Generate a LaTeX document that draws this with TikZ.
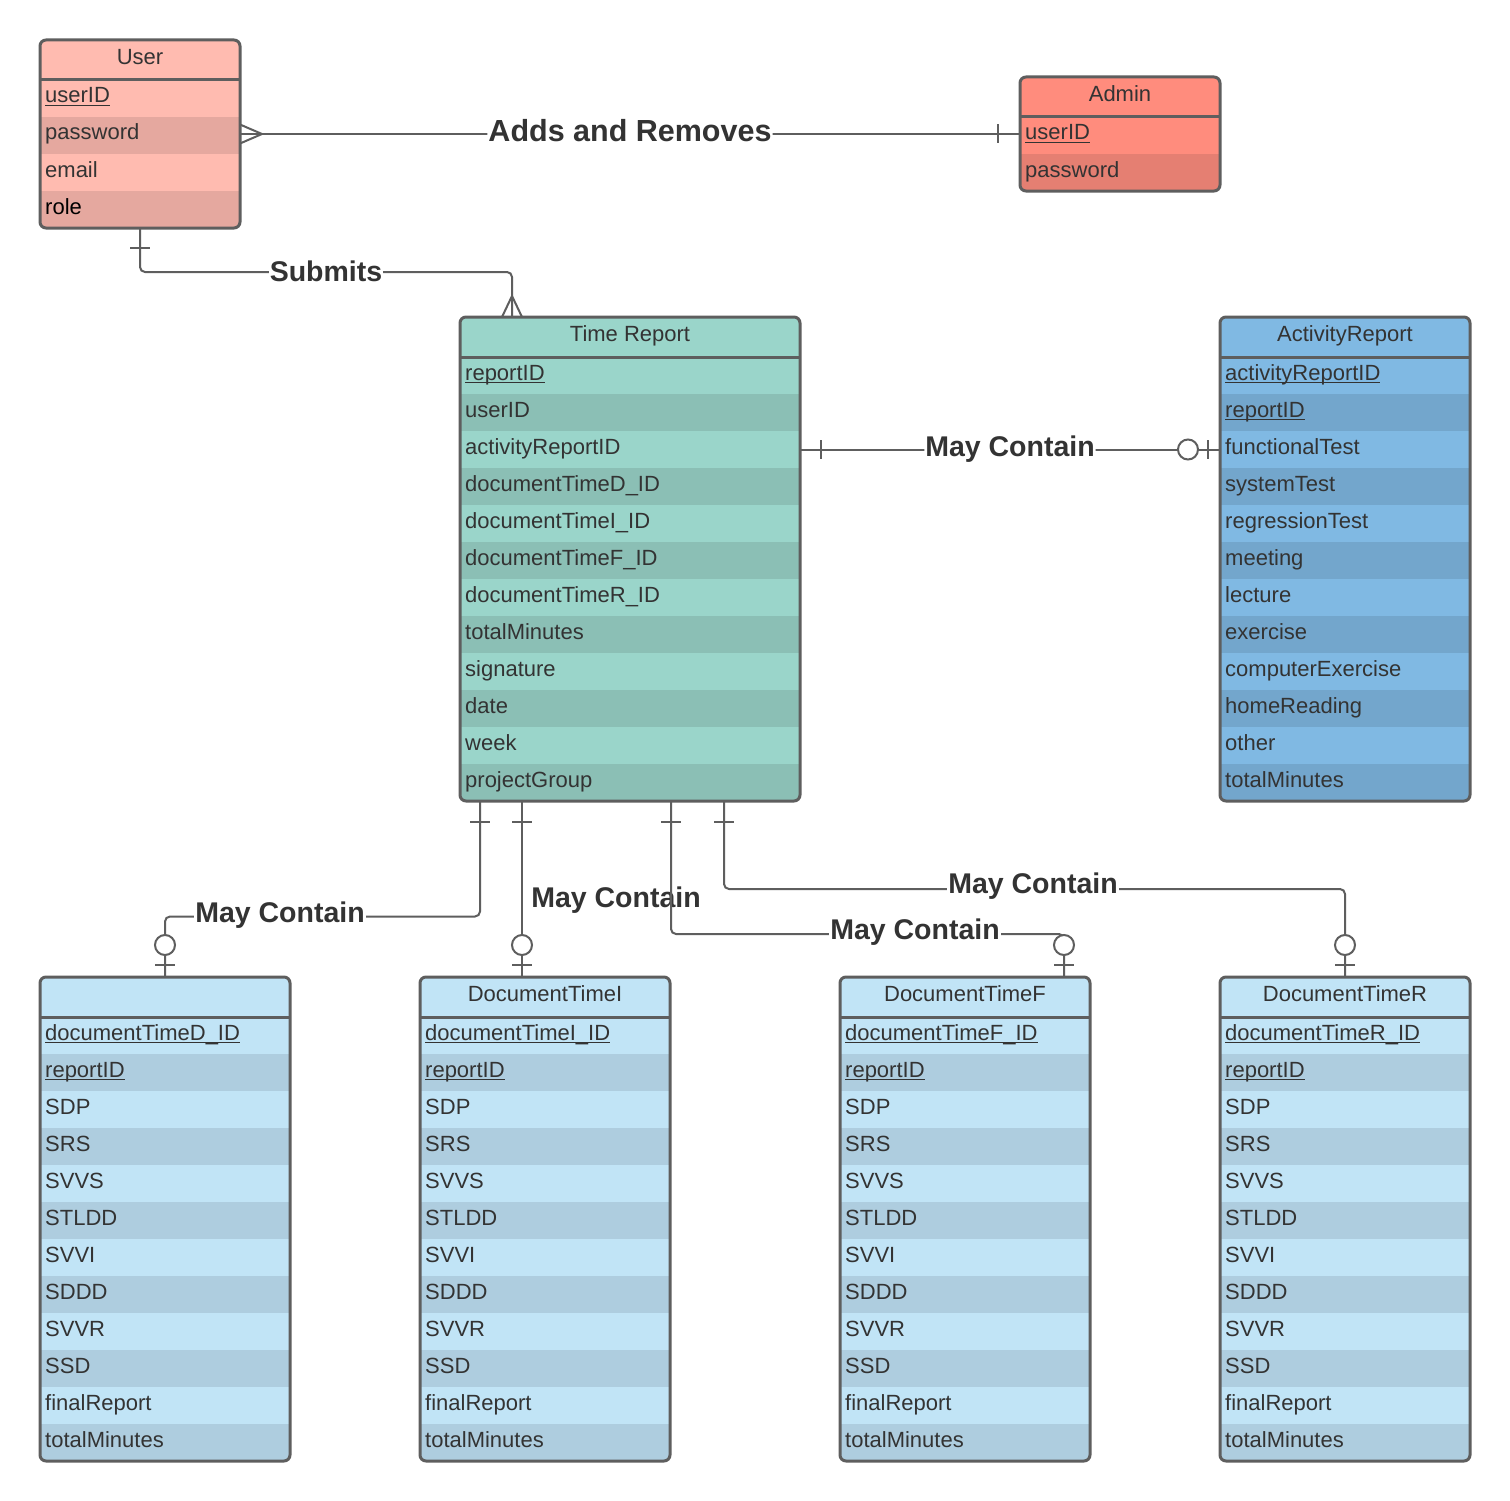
\documentclass[tikz,border=0pt]{standalone}
\usepackage{fontspec}
\setmainfont{Liberation Sans}
\usetikzlibrary{calc}

\definecolor{edge}{HTML}{5E5E5E}
\definecolor{ink}{HTML}{333333}
\definecolor{userlt}{HTML}{FFBBB0}
\definecolor{userdk}{HTML}{E5A89F}
\definecolor{adminlt}{HTML}{FF8C7D}
\definecolor{admindk}{HTML}{E57F72}
\definecolor{trlt}{HTML}{9AD5CA}
\definecolor{trdk}{HTML}{8BBFB5}
\definecolor{arlt}{HTML}{80B9E3}
\definecolor{ardk}{HTML}{73A6CC}
\definecolor{doclt}{HTML}{C1E4F6}
\definecolor{docdk}{HTML}{AECDDF}

% key field: text with a heavier underline just below the baseline
\newcommand\keyf[1]{\setbox0\hbox{#1}\rlap{\rule[-3.4pt]{\wd0}{1.8pt}}\box0}

% entity table: #1 name, #2 left, #3 top, #4 width, #5 title,
% #6 light fill, #7 dark fill, #8 number of rows, #9 rows
\newcommand\ertab[9]{%
  \pgfmathsetmacro\ertabH{40+37*#8}
  \begin{scope}
    \clip[rounded corners=6] (#2,#3) rectangle ++(#4,\ertabH);
    \fill[#6] (#2,#3) rectangle ++(#4,\ertabH);
    \foreach \fld [count=\idx] in {#9} {
      \ifodd\idx\else
        \fill[#7] (#2,{#3+40+37*(\idx-1)}) rectangle ++(#4,37);
      \fi
      \node[rowtext] at (#2+5,{#3+40+37*(\idx-1)+23}) {\fld};
    }
  \end{scope}
  \node[tabbox, minimum width=#4, minimum height=\ertabH, anchor=north west] (#1) at (#2,#3) {};
  \draw[tabline] (#2,#3+40) -- ++(#4,0);
  \node[headtext] at (#2+#4/2,#3+24.5) {#5};
}

\begin{document}
\begin{tikzpicture}[x=1pt,y=-1pt,
  tabbox/.style={draw=edge, line width=3pt, rounded corners=6pt, inner sep=0pt, outer sep=0pt},
  tabline/.style={draw=edge, line width=3pt},
  rowtext/.style={anchor=base west, inner sep=0pt, text=ink, font=\fontsize{22}{26}\selectfont},
  headtext/.style={anchor=base, inner sep=0pt, text=ink, font=\fontsize{22}{26}\selectfont},
  conn/.style={draw=edge, line width=2pt, rounded corners=5pt},
  tick/.style={draw=edge, line width=2pt},
  ring/.style={draw=edge, line width=2pt, fill=white},
  lab/.style={text=ink, fill=white, inner sep=1pt, font=\bfseries\fontsize{28.5}{34}\selectfont},
  labfree/.style={text=ink, inner sep=1pt, font=\bfseries\fontsize{28.5}{34}\selectfont}]

\useasboundingbox (0,0) rectangle (1510,1501);
\fill[white] (0,0) rectangle (1510,1501);

% ---------------- connectors (drawn first, tables on top) ----------------
\coordinate (uE) at (240,134);
\coordinate (aW) at (1020,134);
\coordinate (uS) at (140,228);
\coordinate (trTop) at (512,317);

\coordinate (trR) at (800,449.5);
\coordinate (arL) at (1220,449.5);

\coordinate (trB1) at (480,801);
\coordinate (trB2) at (522,801);
\coordinate (trB3) at (671,801);
\coordinate (trB4) at (724,801);
\coordinate (dD) at (165,977);
\coordinate (dI) at (522,977);
\coordinate (dF) at (1064,977);
\coordinate (dR) at (1345,977);

% User -- Admin
\draw[conn] (uE) -- node[lab, yshift=3pt, font=\bfseries\fontsize{30.5}{36}\selectfont] {Adds and Removes} (aW);
\draw[tick] ($(uE)+(0,-9.5)$) -- ($(uE)+(22,0)$) -- ($(uE)+(0,9.5)$);
\draw[tick] ($(aW)+(-22,-9.5)$) -- ++(0,19);

% User -- Time Report
\draw[conn] (uS) -- ($(uS)+(0,44)$) -| (trTop);
\node[lab] at (326,271) {Submits};
\draw[tick] ($(uS)+(-10,20)$) -- ++(20,0);
\draw[tick] ($(trTop)+(-10,0)$) -- ($(trTop)+(0,-21)$) -- ($(trTop)+(10,0)$);

% Time Report -- ActivityReport
\draw[conn] (trR) -- node[lab] {May Contain} (arL);
\draw[tick] ($(trR)+(21,-9.5)$) -- ++(0,19);
\draw[tick] ($(arL)+(-12,-9.5)$) -- ++(0,19);
\draw[ring] ($(arL)+(-32,0)$) circle[radius=10];

% Time Report -- document tables
\draw[conn] (trB1) -- ($(trB1)+(0,115.5)$) -| (dD);
\node[lab] at (280,915) {May Contain};
\draw[conn] (trB2) -- (dI);
\node[labfree] at (616,900) {May Contain};
\draw[conn] (trB3) -- ($(trB3)+(0,133)$) -| (dF);
\node[lab] at (915,932.5) {May Contain};
\draw[conn] (trB4) -- ($(trB4)+(0,88)$) -| (dR);
\node[lab] at (1033,886.5) {May Contain};

\foreach \p in {trB1,trB2,trB3,trB4}
  \draw[tick] ($(\p)+(-10,20.5)$) -- ++(20,0);
\foreach \p in {dD,dI,dF,dR} {
  \draw[tick] ($(\p)+(-10,-12.5)$) -- ++(20,0);
  \draw[ring] ($(\p)+(0,-32)$) circle[radius=10];
}

% ---------------- tables ----------------
\ertab{user}{40}{40}{200}{User}{userlt}{userdk}{4}%
  {\keyf{userID},password,email,{\color{black}role}}

\ertab{admin}{1020}{77}{200}{Admin}{adminlt}{admindk}{2}%
  {\keyf{userID},password}

\ertab{tr}{460}{317}{340}{Time Report}{trlt}{trdk}{12}%
  {\keyf{reportID},userID,activityReportID,documentTimeD\_ID,documentTimeI\_ID,documentTimeF\_ID,documentTimeR\_ID,totalMinutes,signature,date,week,projectGroup}

\ertab{ar}{1220}{317}{250}{ActivityReport}{arlt}{ardk}{12}%
  {\keyf{activityReportID},\keyf{reportID},functionalTest,systemTest,regressionTest,meeting,lecture,exercise,computerExercise,homeReading,other,totalMinutes}

\ertab{docD}{40}{977}{250}{}{doclt}{docdk}{12}%
  {\keyf{documentTimeD\_ID},\keyf{reportID},SDP,SRS,SVVS,STLDD,SVVI,SDDD,SVVR,SSD,finalReport,totalMinutes}

\ertab{docI}{420}{977}{250}{DocumentTimeI}{doclt}{docdk}{12}%
  {\keyf{documentTimeI\_ID},\keyf{reportID},SDP,SRS,SVVS,STLDD,SVVI,SDDD,SVVR,SSD,finalReport,totalMinutes}

\ertab{docF}{840}{977}{250}{DocumentTimeF}{doclt}{docdk}{12}%
  {\keyf{documentTimeF\_ID},\keyf{reportID},SDP,SRS,SVVS,STLDD,SVVI,SDDD,SVVR,SSD,finalReport,totalMinutes}

\ertab{docR}{1220}{977}{250}{DocumentTimeR}{doclt}{docdk}{12}%
  {\keyf{documentTimeR\_ID},\keyf{reportID},SDP,SRS,SVVS,STLDD,SVVI,SDDD,SVVR,SSD,finalReport,totalMinutes}

\end{tikzpicture}
\end{document}
